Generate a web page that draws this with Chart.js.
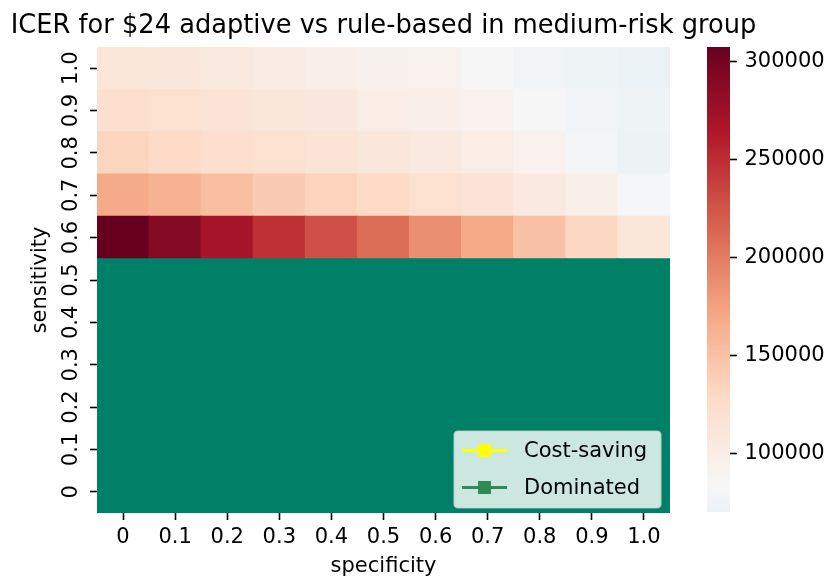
<!DOCTYPE html>
<html>
<head>
<meta charset="utf-8">
<script src="https://cdn.jsdelivr.net/npm/chart.js@4.4.1/dist/chart.umd.min.js"></script>
<style>
  html, body { margin: 0; padding: 0; background: #ffffff; }
  #wrap { position: relative; width: 831px; height: 579px; overflow: hidden; }
  #heat { position: absolute; left: 0; top: 0; }
  #cbar { position: absolute; left: 690px; top: 0; }
</style>
</head>
<body>
<div id="wrap">
  <canvas id="heat" width="831" height="579"></canvas>
  <canvas id="cbar" width="141" height="579"></canvas>
</div>
<script>
// Axis categories
const specificity = ['0', '0.1', '0.2', '0.3', '0.4', '0.5', '0.6', '0.7', '0.8', '0.9', '1.0'];
const sensitivity = ['0', '0.1', '0.2', '0.3', '0.4', '0.5', '0.6', '0.7', '0.8', '0.9', '1.0'];

// ICER ($/QALY) by specificity, one array per sensitivity level
const icerSens06 = [307650, 289800, 270100, 248200, 228000, 209200, 187800, 169400, 150200, 131400, 110800];
const icerSens07 = [168500, 162700, 152900, 142600, 135400, 128300, 120700, 114400, 106400, 98300, 81800];
const icerSens08 = [133700, 128700, 122500, 119300, 115800, 109500, 106400, 100100, 93000, 79500, 72800];
const icerSens09 = [122500, 119800, 114400, 110800, 107700, 100600, 98300, 93000, 82700, 77300, 73300];
const icerSens10 = [110800, 109100, 106400, 101900, 98300, 94700, 93000, 84000, 77300, 73300, 70400];

// Sensitivity levels where the adaptive strategy is dominated / cost-saving
const dominatedSens = ['0', '0.1', '0.2', '0.3', '0.4', '0.5'];
const costSavingSens = [];

// Colour bar tick values
const colorbarTicks = [100000, 150000, 200000, 250000, 300000];

const icerBySens = { '0.6': icerSens06, '0.7': icerSens07, '0.8': icerSens08, '0.9': icerSens09, '1.0': icerSens10 };

const TITLE = 'ICER for $24 adaptive vs rule-based in medium-risk group';
const FONT = '"DejaVu Sans"';
const TEXT = '#000000';
const TICK_FONT = 21;
const DOMINATED_FILL = '#008066';
const COST_SAVING_FILL = '#ffff00';
const legendEntries = [
  { label: 'Cost-saving', color: '#ffff00' },
  { label: 'Dominated', color: '#2e8b57' }
];

// Diverging red-blue colour map (reversed), recentred on a fixed value
const RDBU_R = ['#053061', '#2166ac', '#4393c3', '#92c5de', '#d1e5f0', '#f7f7f7',
                '#fddbc7', '#f4a582', '#d6604d', '#b2182b', '#67001f'];
function hexToRgb(h) { return [1, 3, 5].map(i => parseInt(h.slice(i, i + 2), 16)); }
const RDBU_RGB = RDBU_R.map(hexToRgb);
function cmap(p) {
  p = Math.min(1, Math.max(0, p));
  const x = p * (RDBU_RGB.length - 1);
  const i = Math.min(RDBU_RGB.length - 2, Math.floor(x));
  const t = x - i;
  const a = RDBU_RGB[i], b = RDBU_RGB[i + 1];
  const c = a.map((v, k) => Math.round(v + (b[k] - v) * t));
  return `rgb(${c[0]},${c[1]},${c[2]})`;
}
const allValues = Object.values(icerBySens).flat();
const vmin = Math.min(...allValues);
const vmax = Math.max(...allValues);
const center = 84000;
const vrange = Math.max(vmax - center, center - vmin);
function colorFor(v) { return cmap(0.5 + (v - center) / (2 * vrange)); }

function cellColor(sensLabel, col) {
  if (dominatedSens.includes(sensLabel)) return DOMINATED_FILL;
  if (costSavingSens.includes(sensLabel)) return COST_SAVING_FILL;
  return colorFor(icerBySens[sensLabel][col]);
}

Chart.defaults.font.family = FONT;
Chart.defaults.color = TEXT;
Chart.defaults.animation = false;

// One floating-bar dataset per sensitivity row, each bar spanning one row band
const rowDatasets = sensitivity.map((s, r) => ({
  label: 'sensitivity ' + s,
  data: specificity.map(() => [r - 0.5, r + 0.5]),
  backgroundColor: specificity.map((_, c) => cellColor(s, c)),
  borderWidth: 0,
  barPercentage: 1,
  categoryPercentage: 1,
  grouped: false,
  inflateAmount: 0.6
}));

// Title centred over the plot area (allowed to run wider than it)
const plotTitle = {
  id: 'plotTitle',
  afterDraw(chart) {
    const { ctx, chartArea: a } = chart;
    ctx.save();
    ctx.font = `25.7px ${FONT}`;
    ctx.fillStyle = TEXT;
    ctx.textAlign = 'center';
    ctx.textBaseline = 'middle';
    ctx.fillText(TITLE, (a.left + a.right) / 2, 26);
    ctx.restore();
  }
};

// Legend drawn inside the lower-right corner of the plot
const legendBox = {
  id: 'legendBox',
  afterDatasetsDraw(chart) {
    const { ctx, chartArea: a } = chart;
    ctx.save();
    ctx.font = `${TICK_FONT}px ${FONT}`;
    const textW = Math.max(...legendEntries.map(e => ctx.measureText(e.label).width));
    const w = textW + 84;
    const h = 77;
    const right = a.right - 9;
    const bottom = a.bottom - 5;
    const left = right - w, top = bottom - h;
    ctx.beginPath();
    ctx.roundRect(left, top, w, h, 4);
    ctx.fillStyle = 'rgba(255,255,255,0.8)';
    ctx.fill();
    ctx.lineWidth = 1.2;
    ctx.strokeStyle = 'rgba(204,204,204,0.8)';
    ctx.stroke();
    legendEntries.forEach((e, i) => {
      const cy = top + 19.5 + i * 37;
      const hx0 = left + 8, hx1 = hx0 + 45;
      ctx.strokeStyle = e.color;
      ctx.lineWidth = 3;
      ctx.beginPath();
      ctx.moveTo(hx0, cy);
      ctx.lineTo(hx1, cy);
      ctx.stroke();
      ctx.fillStyle = e.color;
      ctx.fillRect((hx0 + hx1) / 2 - 6.5, cy - 6.5, 13, 13);
      ctx.fillStyle = TEXT;
      ctx.textAlign = 'left';
      ctx.textBaseline = 'middle';
      ctx.fillText(e.label, hx1 + 17, cy + 1);
    });
    ctx.restore();
  }
};

new Chart(document.getElementById('heat'), {
  type: 'bar',
  data: { labels: specificity, datasets: rowDatasets },
  options: {
    responsive: false,
    layout: { padding: { left: 0, right: 161, top: 47, bottom: 0 } },
    plugins: {
      legend: { display: false },
      tooltip: { enabled: false },
      title: { display: false }
    },
    scales: {
      x: {
        type: 'category',
        border: { display: false },
        grid: { display: true, offset: false, drawOnChartArea: false, drawTicks: true, tickLength: 7, tickColor: '#000', tickWidth: 1.6 },
        ticks: { font: { size: TICK_FONT }, color: TEXT, padding: 4.5, maxRotation: 0, autoSkip: false },
        title: { display: true, text: 'specificity', font: { size: TICK_FONT }, color: TEXT, padding: { top: 0, bottom: 0 } },
        afterFit(scale) { scale.height = 66; }
      },
      y: {
        type: 'linear',
        min: -0.5,
        max: 10.5,
        border: { display: false },
        grid: { display: true, drawOnChartArea: false, drawTicks: true, tickLength: 7, tickColor: '#000', tickWidth: 1.6 },
        afterBuildTicks(scale) { scale.ticks = sensitivity.map((_, i) => ({ value: i })); },
        ticks: {
          font: { size: TICK_FONT }, color: TEXT, padding: 2, autoSkip: false,
          minRotation: 90, maxRotation: 90, crossAlign: 'center',
          callback: (v) => sensitivity[Math.round(v)]
        },
        title: { display: true, text: 'sensitivity', font: { size: TICK_FONT }, color: TEXT, padding: { top: 28, bottom: 0 } },
        afterFit(scale) { scale.width = 97; }
      }
    }
  },
  plugins: [legendBox, plotTitle]
});

// Colour bar: a single floating bar from vmin to vmax painted with the colour map
new Chart(document.getElementById('cbar'), {
  type: 'bar',
  data: {
    labels: [''],
    datasets: [{
      data: [[vmin, vmax]],
      borderWidth: 0,
      barPercentage: 1,
      categoryPercentage: 1,
      backgroundColor(ctx) {
        const chart = ctx.chart;
        if (!chart.chartArea) return '#ffffff';
        const ys = chart.scales.y;
        const yBot = ys.getPixelForValue(vmin), yTop = ys.getPixelForValue(vmax);
        const g = chart.ctx.createLinearGradient(0, yBot, 0, yTop);
        const n = 60;
        for (let i = 0; i <= n; i++) g.addColorStop(i / n, colorFor(vmin + (vmax - vmin) * i / n));
        return g;
      }
    }]
  },
  options: {
    responsive: false,
    layout: { padding: { left: 17, right: 0, top: 47, bottom: 67 } },
    plugins: { legend: { display: false }, tooltip: { enabled: false } },
    scales: {
      x: { display: false },
      y: {
        type: 'linear',
        position: 'right',
        min: vmin,
        max: vmax,
        border: { display: false },
        grid: { display: true, drawOnChartArea: false, drawTicks: true, tickLength: 7, tickColor: '#000', tickWidth: 1.6 },
        afterBuildTicks(scale) { scale.ticks = colorbarTicks.map(v => ({ value: v })); },
        ticks: { font: { size: TICK_FONT }, color: TEXT, padding: 7.5, autoSkip: false, callback: (v) => String(v) },
        afterFit(scale) { scale.width = 101; }
      }
    }
  }
});
</script>
</body>
</html>
